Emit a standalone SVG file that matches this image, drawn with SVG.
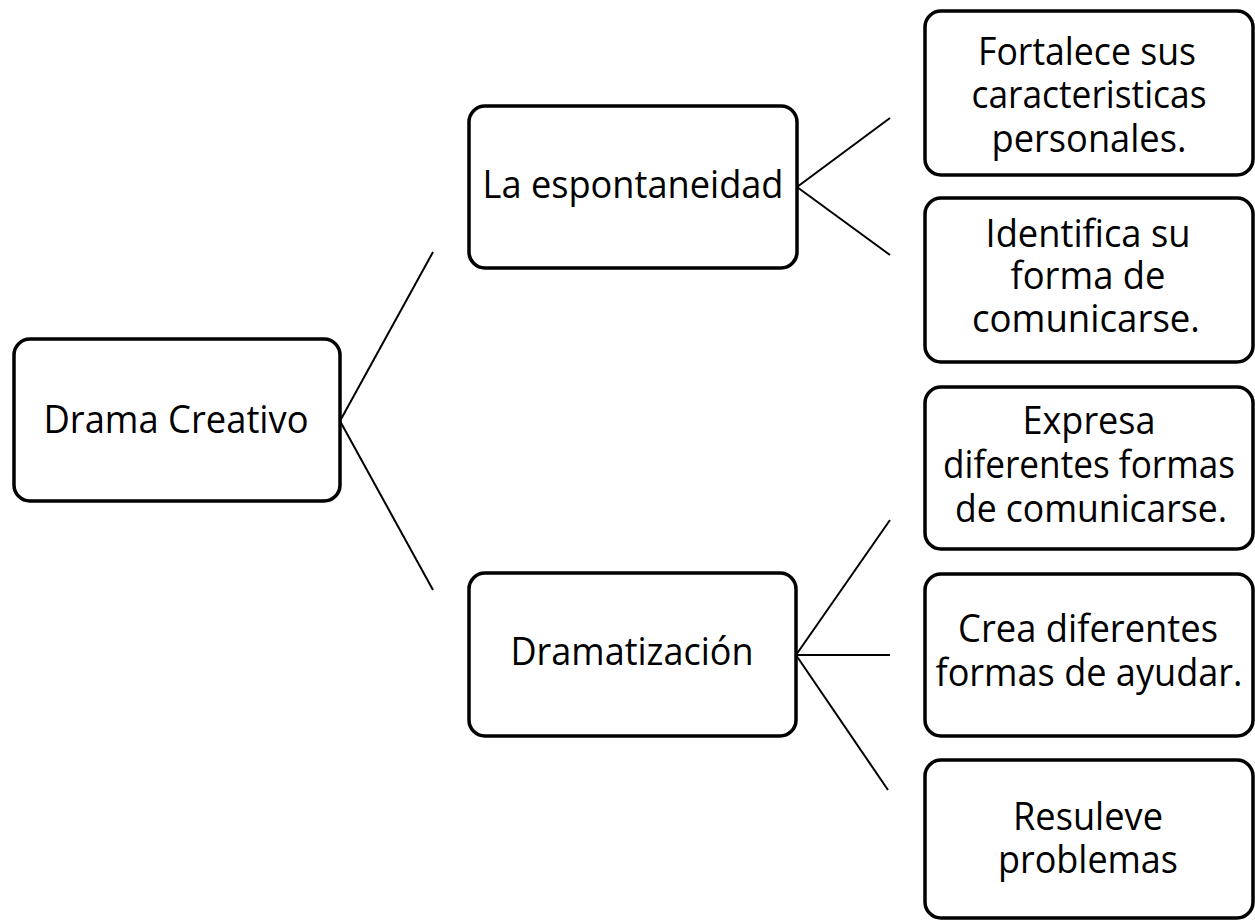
<svg xmlns="http://www.w3.org/2000/svg" width="1255" height="920" viewBox="0 0 1255 920">
<style>
.box{fill:#fff;stroke:#000;stroke-width:3.5}
.t{font-family:"Open Sans","Noto Sans",sans-serif;font-size:38px;fill:#000;text-anchor:middle}
.c{stroke:#000;stroke-width:2;fill:none}
</style>
<rect width="1255" height="920" fill="#fff"/>
<g id="connectors">
<line class="c" x1="340" y1="421" x2="433" y2="252"/>
<line class="c" x1="340" y1="421" x2="433" y2="590"/>
<line class="c" x1="797" y1="187" x2="890" y2="118"/>
<line class="c" x1="797" y1="187" x2="890" y2="255"/>
<line class="c" x1="796" y1="655" x2="890" y2="520"/>
<line class="c" x1="796" y1="655" x2="890" y2="655"/>
<line class="c" x1="796" y1="655" x2="888" y2="790"/>
</g>
<g id="n-drama">
<rect class="box" x="14" y="339" width="326" height="162" rx="16"/>
<text class="t" x="176" y="433" textLength="265" lengthAdjust="spacingAndGlyphs">Drama Creativo</text>
</g>
<g id="n-espontaneidad">
<rect class="box" x="469" y="106" width="328" height="162" rx="16"/>
<text class="t" x="633" y="198" textLength="301" lengthAdjust="spacingAndGlyphs">La espontaneidad</text>
</g>
<g id="n-dramatizacion">
<rect class="box" x="469" y="573" width="327" height="163" rx="16"/>
<text class="t" x="632" y="665" textLength="243" lengthAdjust="spacingAndGlyphs">Dramatización</text>
</g>
<g id="n-fortalece">
<rect class="box" x="925" y="11" width="328" height="164" rx="16"/>
<text class="t" x="1087" y="65" textLength="218" lengthAdjust="spacingAndGlyphs">Fortalece sus</text>
<text class="t" x="1089" y="108" textLength="235" lengthAdjust="spacingAndGlyphs">caracteristicas</text>
<text class="t" x="1089" y="152" textLength="195" lengthAdjust="spacingAndGlyphs">personales.</text>
</g>
<g id="n-identifica">
<rect class="box" x="925" y="198" width="328" height="164" rx="16"/>
<text class="t" x="1088" y="247" textLength="205" lengthAdjust="spacingAndGlyphs">Identifica su</text>
<text class="t" x="1088" y="289" textLength="155" lengthAdjust="spacingAndGlyphs">forma de</text>
<text class="t" x="1086" y="332" textLength="228" lengthAdjust="spacingAndGlyphs">comunicarse.</text>
</g>
<g id="n-expresa">
<rect class="box" x="925" y="387" width="328" height="162" rx="16"/>
<text class="t" x="1089" y="434" textLength="133" lengthAdjust="spacingAndGlyphs">Expresa</text>
<text class="t" x="1089" y="478" textLength="292" lengthAdjust="spacingAndGlyphs">diferentes formas</text>
<text class="t" x="1091" y="522" textLength="272" lengthAdjust="spacingAndGlyphs">de comunicarse.</text>
</g>
<g id="n-crea">
<rect class="box" x="925" y="574" width="328" height="162" rx="16"/>
<text class="t" x="1088" y="642" textLength="260" lengthAdjust="spacingAndGlyphs">Crea diferentes</text>
<text class="t" x="1089" y="686" textLength="307" lengthAdjust="spacingAndGlyphs">formas de ayudar.</text>
</g>
<g id="n-resuleve">
<rect class="box" x="925" y="760" width="328" height="158" rx="16"/>
<text class="t" x="1088" y="830" textLength="150" lengthAdjust="spacingAndGlyphs">Resuleve</text>
<text class="t" x="1088" y="873" textLength="180" lengthAdjust="spacingAndGlyphs">problemas</text>
</g>
</svg>
